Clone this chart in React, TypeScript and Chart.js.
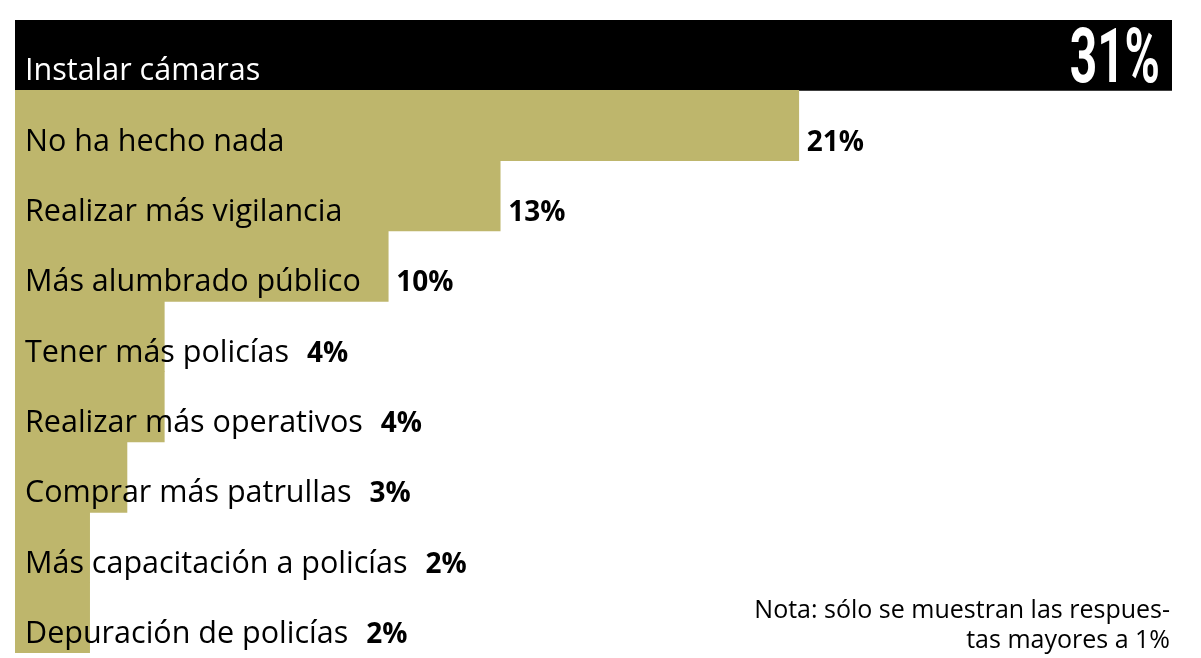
import React, { useEffect, useRef } from "react";
import { Chart, registerables } from "chart.js";

Chart.register(...registerables);

const categories: string[] = [
  "Instalar cámaras",
  "No ha hecho nada",
  "Realizar más vigilancia",
  "Más alumbrado público",
  "Tener más policías",
  "Realizar más operativos",
  "Comprar más patrullas",
  "Más capacitación a policías",
  "Depuración de policías",
];
const values: number[] = [31, 21, 13, 10, 4, 4, 3, 2, 2];
const noteLines: string[] = ["Nota: sólo se muestran las respues-", "tas mayores a 1%"];

const OLIVE = "#BEB66C";
const FONT = "'Open Sans', sans-serif";

const labelPlugin = {
  id: "labelPlugin",
  afterDatasetsDraw(chart: any) {
    const ctx: CanvasRenderingContext2D = chart.ctx;
    const meta = chart.getDatasetMeta(0);
    ctx.save();
    meta.data.forEach((bar: any, i: number) => {
      const props = bar.getProps(["x", "y", "base", "height"], true);
      const bottom = props.y + props.height / 2;
      const baseline = bottom - 10;
      const left = props.base;
      const right = props.x;
      ctx.textBaseline = "alphabetic";
      ctx.textAlign = "left";
      ctx.font = `400 30.5px ${FONT}`;
      const labelX = left + 10;
      if (i === 0) {
        ctx.fillStyle = "#fff";
        ctx.fillText(categories[i], labelX, baseline);
        // big value inside
        ctx.save();
        ctx.font = `700 76px Roboto, sans-serif`;
        const txt = values[i] + "%";
        const w = ctx.measureText(txt).width;
        const sx = 0.63;
        ctx.translate(right - 12, props.y + 27);
        ctx.scale(sx, 1);
        ctx.fillText(txt, -w, 0);
        ctx.restore();
      } else {
        ctx.fillStyle = "#000";
        ctx.fillText(categories[i], labelX, baseline);
        const labelEnd = labelX + ctx.measureText(categories[i]).width;
        const vx = Math.max(right + 8, labelEnd + 18);
        ctx.font = `700 28px ${FONT}`;
        ctx.fillText(values[i] + "%", vx, baseline);
      }
    });
    // note
    const area = chart.chartArea;
    ctx.font = `400 25px ${FONT}`;
    ctx.fillStyle = "#000";
    ctx.textAlign = "right";
    ctx.fillText(noteLines[0], area.right - 2, 618);
    ctx.fillText(noteLines[1], area.right - 2, 648);
    ctx.restore();
  },
};

export default function App() {
  const ref = useRef<HTMLCanvasElement | null>(null);
  useEffect(() => {
    document.body.style.margin = "0";
    const c = new Chart(ref.current as HTMLCanvasElement, {
      type: "bar",
      data: {
        labels: categories,
        datasets: [
          {
            data: values,
            backgroundColor: values.map((_, i) => (i === 0 ? "#000000" : OLIVE)),
            borderWidth: 0,
            categoryPercentage: 1,
            barPercentage: 1,
          },
        ],
      },
      options: {
        indexAxis: "y",
        animation: false,
        responsive: false,
        maintainAspectRatio: false,
        layout: { padding: { left: 15, right: 29, top: 20, bottom: 5 } },
        plugins: { legend: { display: false }, tooltip: { enabled: false } },
        scales: {
          x: { display: false, min: 0, max: 31 },
          y: { display: false },
        },
      },
      plugins: [labelPlugin],
    } as any);
    return () => c.destroy();
  }, []);
  return (
    <div style={{ width: 1201, height: 658 }}>
      <canvas ref={ref} width={1201} height={658} style={{ width: 1201, height: 658 }} />
    </div>
  );
}
